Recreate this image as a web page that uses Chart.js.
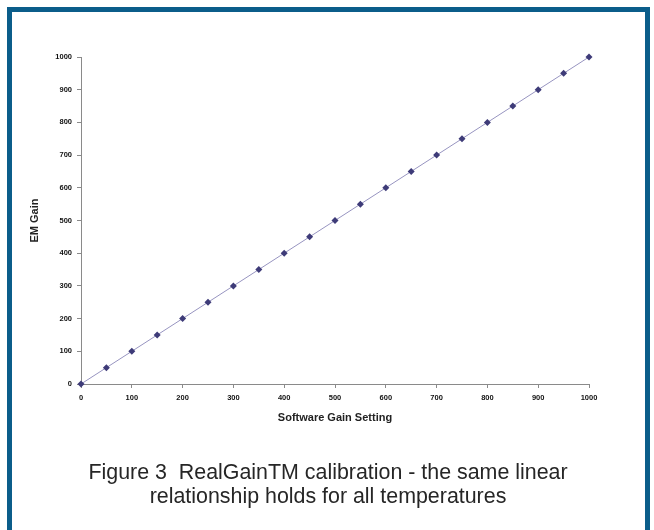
<!DOCTYPE html>
<html>
<head>
<meta charset="utf-8">
<script src="https://cdn.jsdelivr.net/npm/chart.js@4/dist/chart.umd.min.js"></script>
<style>
  html, body { margin: 0; padding: 0; background: #fff; width: 654px; height: 530px; overflow: hidden; }
  #frame { position: absolute; left: 7px; top: 7px; width: 633px; height: 540px; border: 5px solid #0b5d8a; box-sizing: content-box; }
  #wrap { position: absolute; left: 0; top: 0; width: 654px; height: 530px; }
  #caption { position: absolute; left: 0; top: 460px; width: 656px; text-align: center; font-family: "Liberation Sans", Arial, sans-serif; font-size: 21.4px; line-height: 24px; color: #262626; }
</style>
</head>
<body>
<div id="frame"></div>
<div id="wrap"><canvas id="c" width="654" height="530"></canvas></div>
<div id="caption">Figure 3&nbsp; RealGainTM calibration - the same linear<br>relationship holds for all temperatures</div>
<script>
const softwareGain = [0, 50, 100, 150, 200, 250, 300, 350, 400, 450, 500, 550, 600, 650, 700, 750, 800, 850, 900, 950, 1000];
const emGain       = [0, 50, 100, 150, 200, 250, 300, 350, 400, 450, 500, 550, 600, 650, 700, 750, 800, 850, 900, 950, 1000];
const xTicks = [0, 100, 200, 300, 400, 500, 600, 700, 800, 900, 1000];
const yTicks = [0, 100, 200, 300, 400, 500, 600, 700, 800, 900, 1000];

const points = softwareGain.map((x, i) => ({ x: x, y: emGain[i] }));
const tickFont = { family: "Liberation Sans, Arial, sans-serif", size: 7.5, weight: "bold" };
const titleFont = { family: "Liberation Sans, Arial, sans-serif", size: 11, weight: "bold" };

new Chart(document.getElementById('c'), {
  type: 'scatter',
  data: {
    datasets: [{
      data: points,
      showLine: true,
      clip: false,
      borderColor: '#9794c0',
      borderWidth: 1,
      pointStyle: 'rectRot',
      pointRadius: 3.5,
      pointBackgroundColor: '#3e3b78',
      pointBorderColor: '#3e3b78',
      pointBorderWidth: 0
    }]
  },
  options: {
    responsive: false,
    animation: false,
    layout: { padding: { left: 24, right: 65, top: 57, bottom: 101 } },
    plugins: { legend: { display: false }, tooltip: { enabled: false } },
    scales: {
      x: {
        type: 'linear', min: 0, max: 1000,
        afterBuildTicks: s => { s.ticks = xTicks.map(v => ({ value: v })); },
        afterFit: s => { s.height = 45; },
        grid: { drawOnChartArea: false, drawTicks: true, tickLength: 4, color: '#8a8a8a' },
        border: { color: '#8a8a8a', width: 1 },
        ticks: { font: tickFont, color: '#111', padding: 5, maxRotation: 0, callback: v => String(v) },
        title: { display: true, text: 'Software Gain Setting', font: titleFont, color: '#222' }
      },
      y: {
        type: 'linear', min: 0, max: 1000,
        afterBuildTicks: s => { s.ticks = yTicks.map(v => ({ value: v })); },
        afterFit: s => { s.width = 57; },
        grid: { drawOnChartArea: false, drawTicks: true, tickLength: 4, color: '#8a8a8a' },
        border: { color: '#8a8a8a', width: 1 },
        ticks: { font: tickFont, color: '#111', padding: 5, callback: v => String(v) },
        title: { display: true, text: 'EM Gain', font: titleFont, color: '#222' }
      }
    }
  }
});
</script>
</body>
</html>
